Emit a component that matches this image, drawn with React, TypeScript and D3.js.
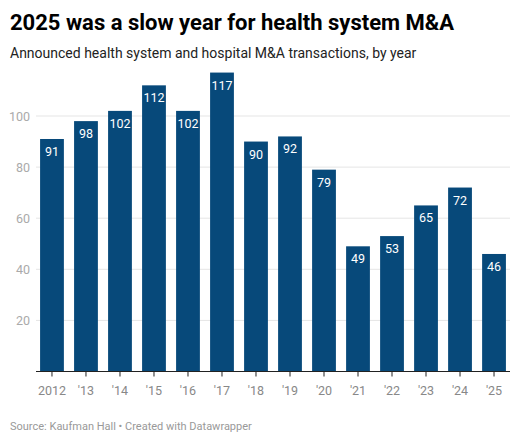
import * as d3 from 'd3'

const years = ['2012', "'13", "'14", "'15", "'16", "'17", "'18", "'19", "'20", "'21", "'22", "'23", "'24", "'25"]
const deals = [91, 98, 102, 112, 102, 117, 90, 92, 79, 49, 53, 65, 72, 46]
const yTicks = [20, 40, 60, 80, 100]

const width = 520
const height = 443
const font = 'Roboto, "Noto Sans", sans-serif'
const barColor = '#07497a'

export default function App() {
  const x = d3.scaleBand<string>()
    .domain(years)
    .range([36, 510])
    .paddingInner(0.3)
    .paddingOuter(0.12)

  const y = d3.scaleLinear()
    .domain([0, 100])
    .range([371.5, 116])

  return (
    <svg width={width} height={height} style={{ position: 'absolute', left: 0, top: 0, fontFamily: font }}>
      <rect width={width} height={height} fill="#fff" />
      <text x={10} y={30} fontSize={22} fontWeight={700} fill="#000">2025 was a slow year for health system M&amp;A</text>
      <text x={10} y={58} fontSize={14} fill="#222">Announced health system and hospital M&amp;A transactions, by year</text>

      {yTicks.map((t) => (
        <g key={t}>
          <line x1={36} x2={510} y1={y(t)} y2={y(t)} stroke="#e5e5e5" />
          <text x={30} y={y(t) + 4.5} textAnchor="end" fontSize={12.5} fill="#aaa">{t}</text>
        </g>
      ))}

      {deals.map((d, i) => {
        const bx = x(years[i]) ?? 0
        return (
          <g key={years[i]}>
            <rect x={bx} y={y(d)} width={x.bandwidth()} height={y(0) - y(d)} fill={barColor} />
            <text x={bx + x.bandwidth() / 2} y={y(d) + 17} textAnchor="middle" fontSize={12.5} fill="#fff">{d}</text>
          </g>
        )
      })}

      <line x1={36} x2={510} y1={y(0)} y2={y(0)} stroke="#222" strokeWidth={1.2} />
      {years.map((yr) => {
        const cx = (x(yr) ?? 0) + x.bandwidth() / 2
        return (
          <g key={yr}>
            <line x1={cx} x2={cx} y1={y(0)} y2={y(0) + 5} stroke="#222" />
            <text x={cx} y={395} textAnchor="middle" fontSize={12.5} fill="#888">{yr}</text>
          </g>
        )
      })}

      <text x={10} y={430} fontSize={11} fill="#999">Source: Kaufman Hall • Created with Datawrapper</text>
    </svg>
  )
}
